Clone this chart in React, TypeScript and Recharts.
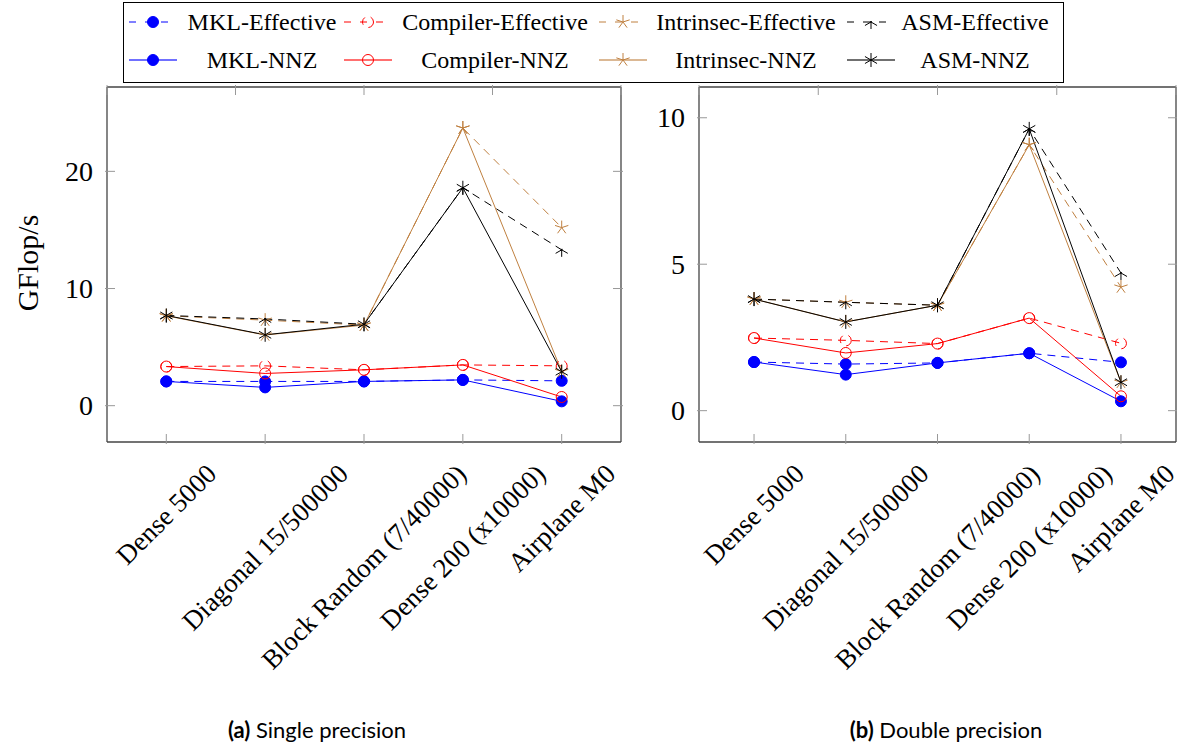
import { LineChart, Line, XAxis, YAxis } from "recharts";

// x categories (matrices)
const categories = [
  "Dense 5000",
  "Diagonal 15/500000",
  "Block Random (7/40000)",
  "Dense 200 (x10000)",
  "Airplane M0",
];

// (a) single precision, GFlop/s
const spMklEffective = [2.07, 2.07, 2.07, 2.2, 2.12];
const spCompilerEffective = [3.34, 3.4, 3.06, 3.48, 3.4];
const spIntrinsecEffective = [7.67, 7.3, 6.88, 23.7, 15.2];
const spAsmEffective = [7.7, 7.4, 6.95, 18.6, 13.3];
const spMklNnz = [2.07, 1.56, 2.07, 2.2, 0.37];
const spCompilerNnz = [3.34, 2.75, 3.06, 3.48, 0.74];
const spIntrinsecNnz = [7.67, 6.03, 6.88, 23.7, 2.92];
const spAsmNnz = [7.7, 6.05, 6.95, 18.6, 2.9];

// (b) double precision, GFlop/s
const dpMklEffective = [1.66, 1.59, 1.63, 1.96, 1.65];
const dpCompilerEffective = [2.48, 2.4, 2.29, 3.16, 2.3];
const dpIntrinsecEffective = [3.81, 3.7, 3.6, 9.08, 4.22];
const dpAsmEffective = [3.81, 3.7, 3.6, 9.62, 4.7];
const dpMklNnz = [1.66, 1.23, 1.63, 1.96, 0.32];
const dpCompilerNnz = [2.48, 1.97, 2.29, 3.16, 0.49];
const dpIntrinsecNnz = [3.81, 3.03, 3.6, 9.08, 0.97];
const dpAsmNnz = [3.81, 3.03, 3.6, 9.62, 0.97];

const spTicks = [0, 10, 20];
const dpTicks = [0, 5, 10];
const xTicks = [0, 1, 2, 3, 4];

const SERIF = '"Liberation Serif", "DejaVu Serif", serif';
const DASH = "8 6";
const BROWN = "#bf8040";

type Shape = "disc" | "circle" | "star" | "asterisk";
interface SeriesStyle {
  name: string;
  color: string;
  dashed: boolean;
  shape: Shape;
}

// legend order (row by row)
const seriesStyles: SeriesStyle[] = [
  { name: "MKL-Effective", color: "#0000ff", dashed: true, shape: "disc" },
  { name: "Compiler-Effective", color: "#ff0000", dashed: true, shape: "circle" },
  { name: "Intrinsec-Effective", color: BROWN, dashed: true, shape: "star" },
  { name: "ASM-Effective", color: "#000000", dashed: true, shape: "asterisk" },
  { name: "MKL-NNZ", color: "#0000ff", dashed: false, shape: "disc" },
  { name: "Compiler-NNZ", color: "#ff0000", dashed: false, shape: "circle" },
  { name: "Intrinsec-NNZ", color: BROWN, dashed: false, shape: "star" },
  { name: "ASM-NNZ", color: "#000000", dashed: false, shape: "asterisk" },
];

const buildRows = (values: number[][]) =>
  categories.map((c, i) => {
    const row: Record<string, number | string> = { i, name: c };
    seriesStyles.forEach((s, k) => {
      row[s.name] = values[k][i];
    });
    return row;
  });

const spData = buildRows([
  spMklEffective, spCompilerEffective, spIntrinsecEffective, spAsmEffective,
  spMklNnz, spCompilerNnz, spIntrinsecNnz, spAsmNnz,
]);
const dpData = buildRows([
  dpMklEffective, dpCompilerEffective, dpIntrinsecEffective, dpAsmEffective,
  dpMklNnz, dpCompilerNnz, dpIntrinsecNnz, dpAsmNnz,
]);

const Marker = ({ cx, cy, s }: { cx: number; cy: number; s: SeriesStyle }) => {
  const dash = s.dashed ? DASH : undefined;
  if (s.shape === "disc")
    return <circle cx={cx} cy={cy} r={5.5} fill={s.color} stroke={s.color} />;
  if (s.shape === "circle")
    return <circle cx={cx} cy={cy} r={5.5} fill="none" stroke={s.color} strokeDasharray={dash} />;
  const r = 7;
  let d = "";
  if (s.shape === "star") {
    [90, 162, 234, 306, 18].forEach((a) => {
      const t = (a * Math.PI) / 180;
      d += `M${cx},${cy}L${cx + r * Math.cos(t)},${cy - r * Math.sin(t)}`;
    });
  } else {
    [90, 30, 150].forEach((a) => {
      const t = (a * Math.PI) / 180;
      d += `M${cx - r * Math.cos(t)},${cy + r * Math.sin(t)}L${cx + r * Math.cos(t)},${cy - r * Math.sin(t)}`;
    });
  }
  return <path d={d} fill="none" stroke={s.color} strokeDasharray={dash} />;
};

let measureCtx: CanvasRenderingContext2D | null = null;
const textWidth = (t: string, font: string) => {
  if (!measureCtx) measureCtx = document.createElement("canvas").getContext("2d");
  if (!measureCtx) return t.length * 12;
  measureCtx.font = font;
  return measureCtx.measureText(t).width;
};

const X_FS = 27;
const XTick = (props: any) => {
  const { x, y, payload } = props;
  const label = categories[payload.value];
  const L = textWidth(label, `${X_FS}px ${SERIF}`);
  const cy = y + 18 + ((L + X_FS * 0.75) * 0.7071) / 2;
  return (
    <g>
      <line x1={x} x2={x} y1={y} y2={y - 10} stroke="#999" />
      <text
        x={x}
        y={cy}
        transform={`rotate(-45 ${x} ${cy})`}
        textAnchor="middle"
        dominantBaseline="central"
        fontSize={X_FS}
        fontFamily={SERIF}
        fill="#000"
      >
        {label}
      </text>
    </g>
  );
};

const TopTick = (props: any) => (
  <line x1={props.x} x2={props.x} y1={props.y} y2={props.y + 10} stroke="#999" />
);
const RightTick = (props: any) => (
  <line x1={props.x} x2={props.x - 10} y1={props.y} y2={props.y} stroke="#999" />
);
const YTick = (props: any) => {
  const { x, y, payload } = props;
  return (
    <g>
      <line x1={x} x2={x + 10} y1={y} y2={y} stroke="#999" />
      <text x={x - 12} y={y} textAnchor="end" dominantBaseline="central" fontSize={28} fontFamily={SERIF} fill="#000">
        {payload.value}
      </text>
    </g>
  );
};

const frame = { stroke: "#444", strokeWidth: 1.3 };

interface PanelProps {
  data: Record<string, number | string>[];
  width: number;
  yAxisWidth: number;
  rightMargin: number;
  yDomain: [number, number];
  yTicks: number[];
}

const Panel = ({ data, width, yAxisWidth, rightMargin, yDomain, yTicks }: PanelProps) => (
  <LineChart
    width={width}
    height={748}
    data={data}
    margin={{ top: 86, right: rightMargin, left: 0, bottom: 0 }}
    style={{ overflow: "visible" }}
  >
    <XAxis
      dataKey="i"
      type="number"
      domain={[-0.6, 4.6]}
      ticks={xTicks}
      height={306}
      tickSize={0}
      tickLine={false}
      axisLine={frame}
      tick={<XTick />}
      interval={0}
    />
    <XAxis
      xAxisId="t"
      orientation="top"
      type="number"
      domain={[-0.6, 4.6]}
      ticks={xTicks}
      height={1}
      tickSize={0}
      tickLine={false}
      axisLine={frame}
      tick={<TopTick />}
      interval={0}
    />
    <YAxis
      type="number"
      domain={yDomain}
      allowDataOverflow
      ticks={yTicks}
      width={yAxisWidth}
      tickSize={0}
      tickLine={false}
      axisLine={frame}
      tick={<YTick />}
      interval={0}
    />
    <YAxis
      yAxisId="r"
      orientation="right"
      type="number"
      domain={yDomain}
      allowDataOverflow
      ticks={yTicks}
      width={1}
      tickSize={0}
      tickLine={false}
      axisLine={frame}
      tick={<RightTick />}
      interval={0}
    />
    {seriesStyles.map((s) => (
      <Line
        key={s.name}
        type="linear"
        dataKey={s.name}
        stroke={s.color}
        strokeWidth={1}
        strokeDasharray={s.dashed ? DASH : undefined}
        dot={(p: any) => <Marker key={`${s.name}-${p.index}`} cx={p.cx} cy={p.cy} s={s} />}
        activeDot={false}
        isAnimationActive={false}
      />
    ))}
  </LineChart>
);

// legend layout: sample start x per column, text centre per column
const legendSampleX = [129, 344, 599, 847];
const legendTextX = [262, 495, 746, 975];
const legendRowY = [22, 60];

const Overlay = () => (
  <svg width={1177} height={748} style={{ position: "absolute", left: 0, top: 0, pointerEvents: "none" }}>
    <rect x={123.5} y={2.5} width={940} height={80} fill="none" stroke="#000" strokeWidth={1} />
    {seriesStyles.map((s, k) => {
      const col = k % 4;
      const rowY = legendRowY[Math.floor(k / 4)];
      const x0 = legendSampleX[col];
      return (
        <g key={s.name}>
          <line
            x1={x0}
            x2={x0 + 48}
            y1={rowY}
            y2={rowY}
            stroke={s.color}
            strokeWidth={s.dashed ? 1 : 1.6}
            strokeOpacity={s.dashed ? 1 : 0.75}
            strokeDasharray={s.dashed ? "7 9" : undefined}
          />
          <Marker cx={x0 + 24} cy={rowY} s={s} />
          <text x={legendTextX[col]} y={rowY} textAnchor="middle" dominantBaseline="central" fontSize={24} fontFamily={SERIF} fill="#000">
            {s.name}
          </text>
        </g>
      );
    })}
    <text
      x={27}
      y={263}
      transform="rotate(-90 27 263)"
      textAnchor="middle"
      dominantBaseline="central"
      fontSize={30}
      fontFamily={SERIF}
      fill="#000"
    >
      GFlop/s
    </text>
    <text x={317} y={738} textAnchor="middle" fontSize={22} fontFamily="Lato, sans-serif" fill="#000">
      <tspan fontWeight="bold">(a)</tspan> Single precision
    </text>
    <text x={946} y={738} textAnchor="middle" fontSize={22} fontFamily="Lato, sans-serif" fill="#000">
      <tspan fontWeight="bold">(b)</tspan> Double precision
    </text>
  </svg>
);

export default function App() {
  return (
    <div style={{ position: "absolute", left: 0, top: 0, width: 1177, height: 748, background: "#fff" }}>
      <div style={{ position: "absolute", left: 0, top: 0 }}>
        <Panel data={spData} width={640} yAxisWidth={107} rightMargin={18} yDomain={[-3.1, 27.2]} yTicks={spTicks} />
      </div>
      <div style={{ position: "absolute", left: 640, top: 0 }}>
        <Panel data={dpData} width={537} yAxisWidth={59} rightMargin={0} yDomain={[-1.07, 11.05]} yTicks={dpTicks} />
      </div>
      <Overlay />
    </div>
  );
}
